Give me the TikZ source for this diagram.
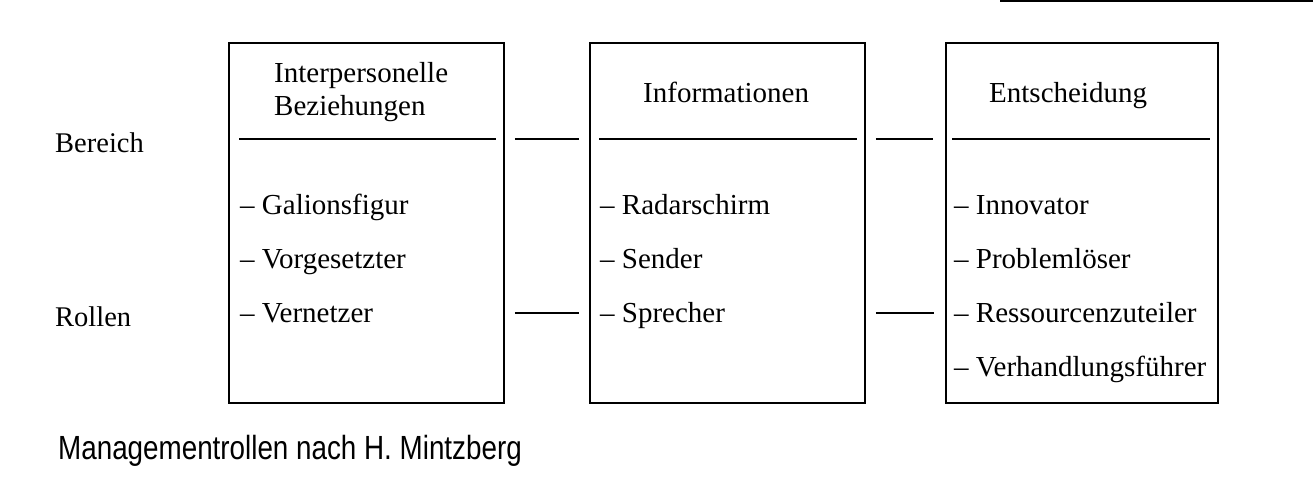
\documentclass[tikz,border=0pt]{standalone}
\usepackage{fontspec}
\setmainfont{Liberation Serif}
\newfontfamily\capfont{Liberation Sans}[FakeStretch=0.83]
\usetikzlibrary{calc,positioning}

\begin{document}
\begin{tikzpicture}[x=1pt,y=-1pt,
 rolebox/.style={draw,line width=1.6pt,minimum width=275pt,minimum height=360pt,inner sep=0pt},
 headtext/.style={anchor=north west,align=left,inner sep=0pt,font=\fontsize{29}{33}\selectfont},
 itemtext/.style={anchor=base west,inner sep=0pt,font=\fontsize{29}{33}\selectfont},
 rowtext/.style={anchor=base west,inner sep=0pt,font=\fontsize{28.5}{33}\selectfont},
 rule/.style={line width=1.6pt}
]
\useasboundingbox (0,0) rectangle (1313,500);
% the three boxes
\node[rolebox] (inter) at (366.5,223) {};
\node[rolebox] (info) at (727.5,223) {};
\node[rolebox,minimum width=272pt] (entsch) at (1082,223) {};
\node[headtext] (interhead) at (274,62) {Interpersonelle\\Beziehungen};
\node[headtext] (infohead) at (643,82) {Informationen};
\node[headtext] (entschhead) at (989,82) {Entscheidung};
% row labels
\node[rowtext] (bereich) at (55,152) {Bereich};
\node[rowtext] (rollen) at (55,326) {Rollen};
\coordinate (bline) at (0,139);
\coordinate (rline) at (0,313);
% roles
\node[itemtext] (galion) at (240,214) {– Galionsfigur};
\node[itemtext] (vorges) at (240,268) {– Vorgesetzter};
\node[itemtext] (vernetz) at (240,322) {– Vernetzer};
\node[itemtext] (radar) at (600,214) {– Radarschirm};
\node[itemtext] (sender) at (600,268) {– Sender};
\node[itemtext] (sprech) at (600,322) {– Sprecher};
\node[itemtext] (innov) at (954,214) {– Innovator};
\node[itemtext] (problem) at (954,268) {– Problemlöser};
\node[itemtext] (ressource) at (954,322) {– Ressourcenzuteiler};
\node[itemtext] (verhand) at (954,376) {– Verhandlungsführer};
% rules under the headings
\draw[rule] ([xshift=11pt]inter.west |- bline) -- ([xshift=-9pt]inter.east |- bline);
\draw[rule] ([xshift=10pt]info.west |- bline) -- ([xshift=-9pt]info.east |- bline);
\draw[rule] ([xshift=7pt]entsch.west |- bline) -- ([xshift=-9pt]entsch.east |- bline);
% links between the boxes
\draw[rule] ([xshift=10pt]inter.east |- bline) -- ([xshift=-10pt]info.west |- bline);
\draw[rule] ([xshift=10pt]info.east |- bline) -- ([xshift=-12pt]entsch.west |- bline);
\draw[rule] ([xshift=10pt]inter.east |- rline) -- ([xshift=-10pt]info.west |- rline);
\draw[rule] ([xshift=10pt]info.east |- rline) -- ([xshift=-11pt]entsch.west |- rline);
% page rule top right
\coordinate (topl) at (1000,1);
\coordinate (topr) at (1313,1);
\draw[line width=2pt] (topl) -- (topr);
\node[anchor=base west,inner sep=0pt,font=\capfont\fontsize{33.5}{36}\selectfont] (caption) at (58,459) {Managementrollen nach H. Mintzberg};
\end{tikzpicture}
\end{document}
